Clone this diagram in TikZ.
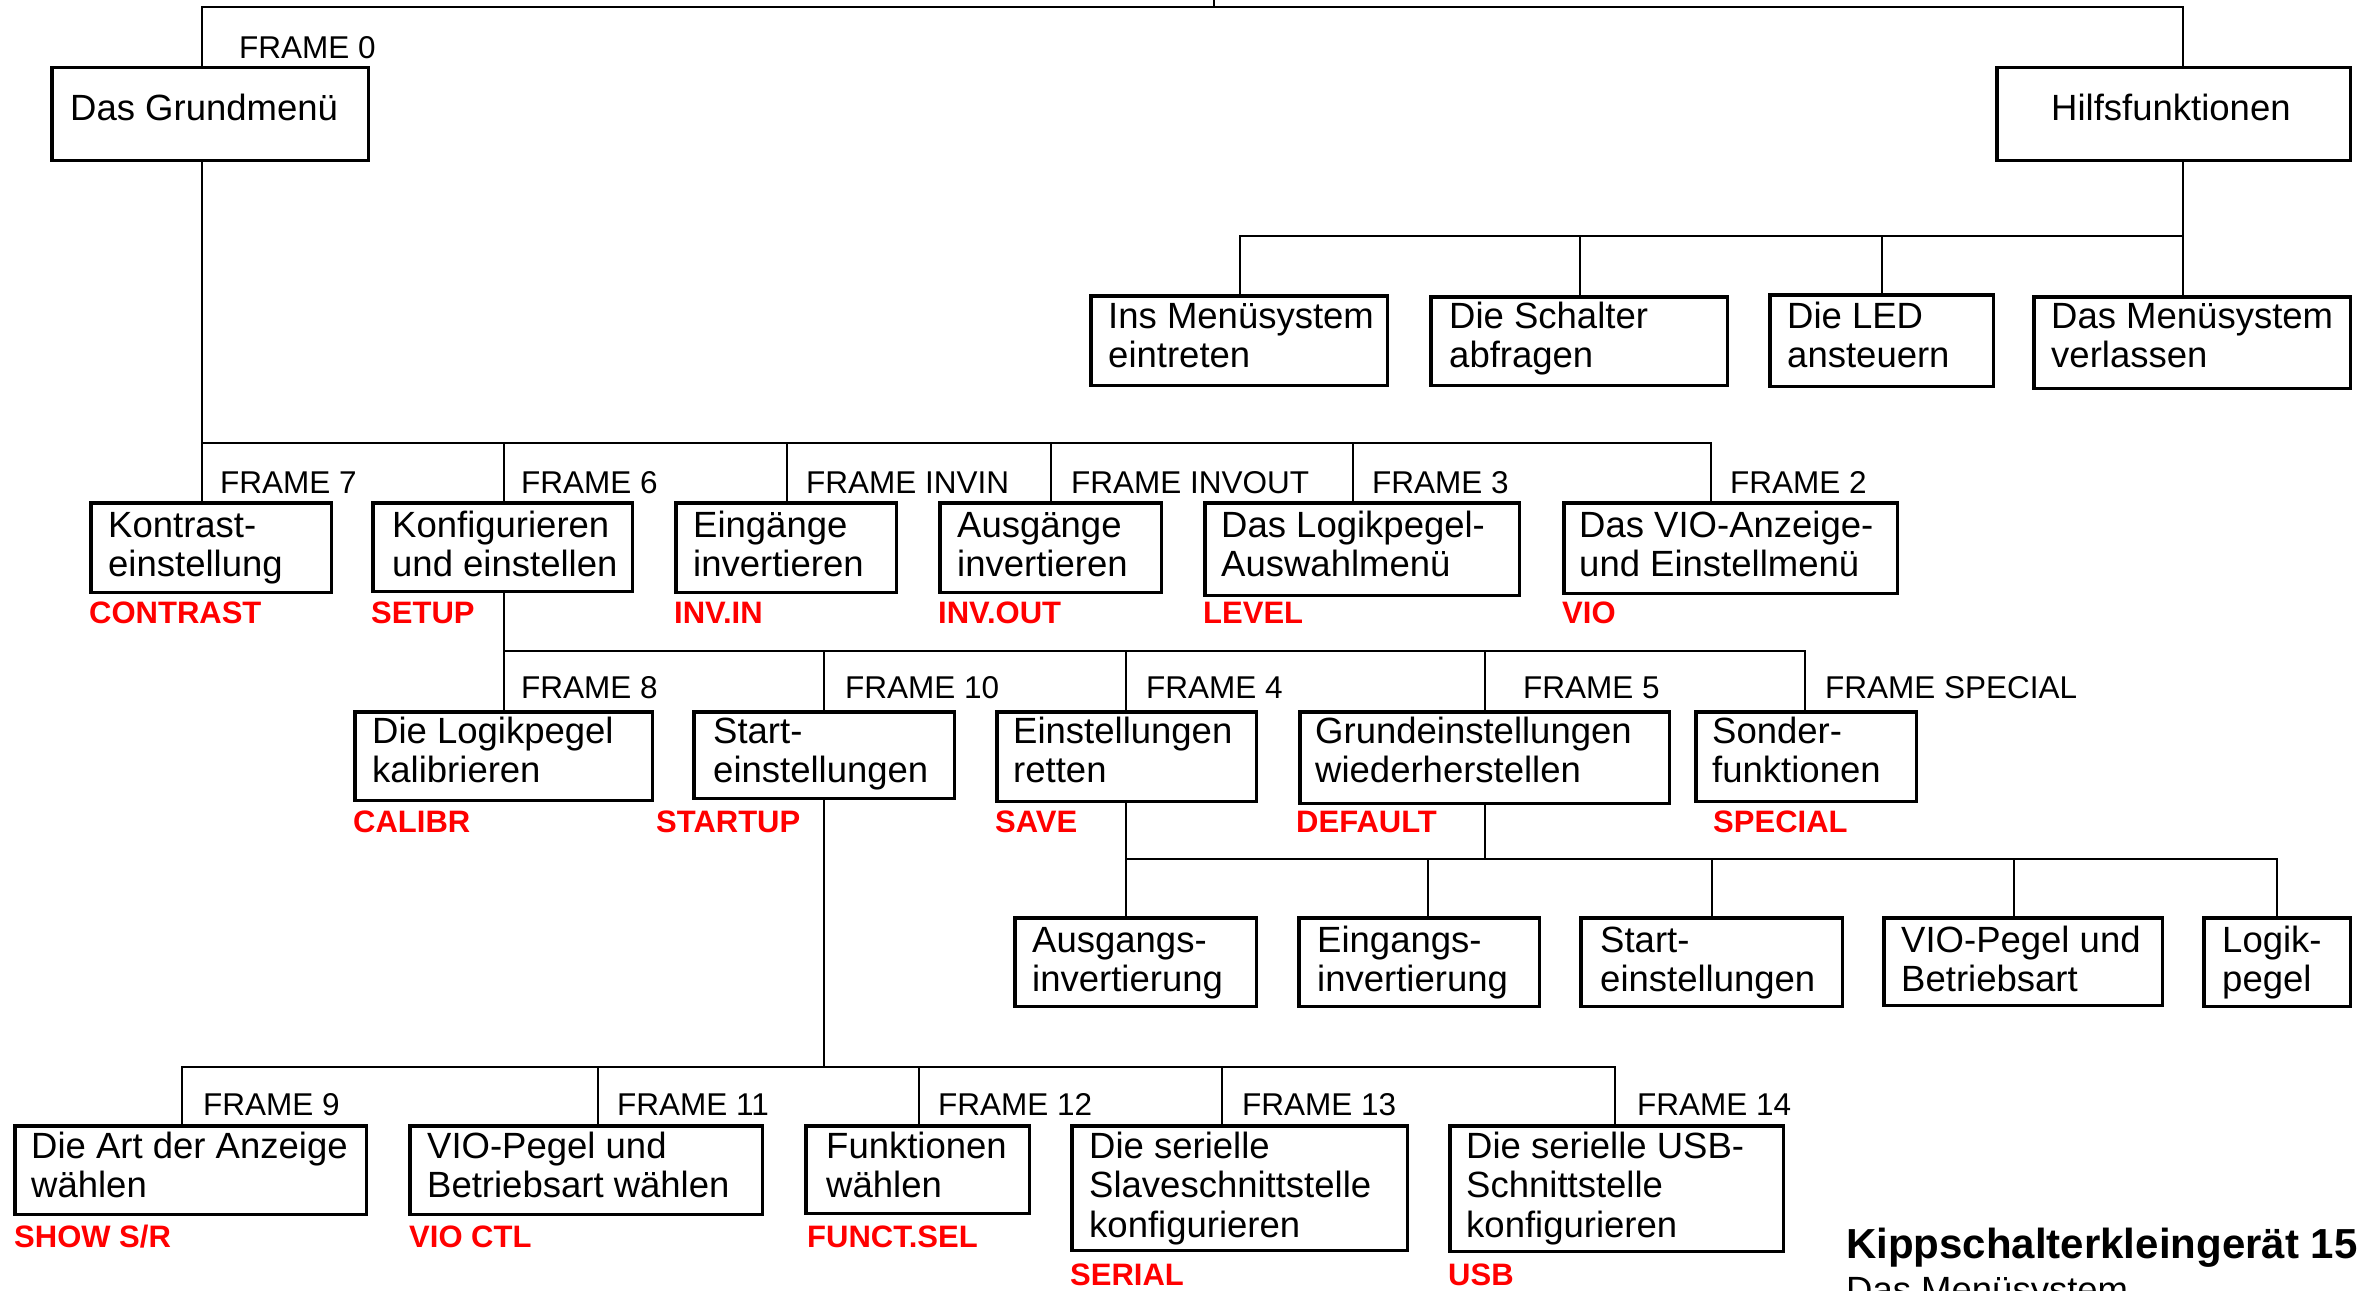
\documentclass[tikz,border=0pt]{standalone}
\usepackage{fontspec}
\setmainfont{Liberation Sans}
\definecolor{tagred}{RGB}{255,0,0}
\newcommand{\boxfont}{\fontsize{36.5}{39.5}\selectfont}
\newcommand{\framefont}{\fontsize{31.5}{34}\selectfont}
\newcommand{\tagfont}{\fontsize{31}{34}\selectfont\bfseries}
\newcommand{\textlines}[1]{\begin{tabular}[t]{@{}l@{}}#1\end{tabular}}
% menu box: name, left, top, right, bottom (outer edges)
\newcommand{\menubox}[5]{%
  \node[menu, minimum width={(#4-#2-3.5)*1pt}, minimum height={(#5-#3-3.5)*1pt}]
    (#1) at (#2+1.75,#3+1.75) {};}
\tikzset{
  conn/.style={line width=2pt},
  menu/.style={draw, line width=3.5pt, rectangle, inner sep=0pt, outer sep=0pt, anchor=north west},
  boxtext/.style={anchor=base west, inner sep=0pt, font=\boxfont},
  framelabel/.style={anchor=base west, inner sep=0pt, font=\framefont},
  menutag/.style={anchor=base west, inner sep=0pt, font=\tagfont, text=tagred},
}
\begin{document}
\begin{tikzpicture}[x=1pt,y=-1pt]
\useasboundingbox (0,0) rectangle (2360,1290);
\clip (0,0) rectangle (2360,1290);
\fill[white] (0,0) rectangle (2360,1290);

% ---------- boxes ----------
\menubox{gm}{50}{66}{370}{162}
\menubox{hf}{1995}{66}{2352}{162}
\menubox{ins}{1089}{294}{1389}{387}
\menubox{sch}{1429}{295}{1729}{387}
\menubox{led}{1768}{293}{1995}{388}
\menubox{verl}{2032}{295}{2352}{390}
\menubox{kon}{89}{501}{333}{594}
\menubox{kfg}{371}{501}{634}{593}
\menubox{ein}{674}{501}{898}{594}
\menubox{aus}{938}{501}{1163}{594}
\menubox{lvl}{1203}{501}{1521}{597}
\menubox{vio}{1562}{501}{1899}{595}
\menubox{cal}{353}{710}{654}{802}
\menubox{sta}{692}{710}{956}{800}
\menubox{ret}{995}{710}{1258}{803}
\menubox{gru}{1298}{710}{1671}{805}
\menubox{son}{1694}{710}{1918}{803}
\menubox{ausi}{1013}{916}{1258}{1008}
\menubox{eini}{1297}{916}{1541}{1008}
\menubox{stai}{1579}{916}{1844}{1008}
\menubox{viop}{1882}{916}{2164}{1007}
\menubox{logp}{2202}{916}{2352}{1008}
\menubox{art}{13}{1124}{368}{1216}
\menubox{viow}{408}{1124}{764}{1216}
\menubox{fkt}{804}{1124}{1031}{1215}
\menubox{ser}{1070}{1124}{1409}{1252}
\menubox{usb}{1448}{1124}{1785}{1253}

% ---------- box texts ----------
\node[boxtext] (gm-t)   at (70,120)   {Das Grundmenü};
\node[boxtext] (hf-t)   at (2051,120) {Hilfsfunktionen};
\node[boxtext] (ins-t)  at (1108,328) {\textlines{Ins Menüsystem\\eintreten}};
\node[boxtext] (sch-t)  at (1449,328) {\textlines{Die Schalter\\abfragen}};
\node[boxtext] (led-t)  at (1787,328) {\textlines{Die LED\\ansteuern}};
\node[boxtext] (verl-t) at (2051,328) {\textlines{Das Menüsystem\\verlassen}};
\node[boxtext] (kon-t)  at (108,537)  {\textlines{Kontrast-\\einstellung}};
\node[boxtext] (kfg-t)  at (392,537)  {\textlines{Konfigurieren\\und einstellen}};
\node[boxtext] (ein-t)  at (693,537)  {\textlines{Eingänge\\invertieren}};
\node[boxtext] (aus-t)  at (957,537)  {\textlines{Ausgänge\\invertieren}};
\node[boxtext] (lvl-t)  at (1221,537) {\textlines{Das Logikpegel-\\Auswahlmenü}};
\node[boxtext] (vio-t)  at (1579,537) {\textlines{Das VIO-Anzeige-\\und Einstellmenü}};
\node[boxtext] (cal-t)  at (372,743)  {\textlines{Die Logikpegel\\kalibrieren}};
\node[boxtext] (sta-t)  at (713,743)  {\textlines{Start-\\einstellungen}};
\node[boxtext] (ret-t)  at (1013,743) {\textlines{Einstellungen\\retten}};
\node[boxtext] (gru-t)  at (1315,743) {\textlines{Grundeinstellungen\\wiederherstellen}};
\node[boxtext] (son-t)  at (1712,743) {\textlines{Sonder-\\funktionen}};
\node[boxtext] (ausi-t) at (1032,952) {\textlines{Ausgangs-\\invertierung}};
\node[boxtext] (eini-t) at (1317,952) {\textlines{Eingangs-\\invertierung}};
\node[boxtext] (stai-t) at (1600,952) {\textlines{Start-\\einstellungen}};
\node[boxtext] (viop-t) at (1901,952) {\textlines{VIO-Pegel und\\Betriebsart}};
\node[boxtext] (logp-t) at (2222,952) {\textlines{Logik-\\pegel}};
\node[boxtext] (art-t)  at (31,1158)  {\textlines{Die Art der Anzeige\\wählen}};
\node[boxtext] (viow-t) at (427,1158)  {\textlines{VIO-Pegel und\\Betriebsart wählen}};
\node[boxtext] (fkt-t)  at (826,1158)  {\textlines{Funktionen\\wählen}};
\node[boxtext] (ser-t)  at (1089,1158) {\textlines{Die serielle\\Slaveschnittstelle\\konfigurieren}};
\node[boxtext] (usb-t)  at (1466,1158) {\textlines{Die serielle USB-\\Schnittstelle\\konfigurieren}};

% ---------- frame labels ----------
\node[framelabel] (f0)  at (239,59)   {FRAME 0};
\node[framelabel] (f7)  at (220,493)  {FRAME 7};
\node[framelabel] (f6)  at (521,493)  {FRAME 6};
\node[framelabel] (fin) at (806,493)  {FRAME INVIN};
\node[framelabel] (fout) at (1071,493) {FRAME INVOUT};
\node[framelabel] (f3)  at (1372,493) {FRAME 3};
\node[framelabel] (f2)  at (1730,493) {FRAME 2};
\node[framelabel] (f8)  at (521,698)  {FRAME 8};
\node[framelabel] (f10) at (845,698)  {FRAME 10};
\node[framelabel] (f4)  at (1146,698) {FRAME 4};
\node[framelabel] (f5)  at (1523,698) {FRAME 5};
\node[framelabel] (fsp) at (1825,698) {FRAME SPECIAL};
\node[framelabel] (f9)  at (203,1115) {FRAME 9};
\node[framelabel] (f11) at (617,1115) {FRAME 11};
\node[framelabel] (f12) at (938,1115) {FRAME 12};
\node[framelabel] (f13) at (1242,1115) {FRAME 13};
\node[framelabel] (f14) at (1637,1115) {FRAME 14};

% ---------- red menu tags ----------
\node[menutag] (g-con) at (89,623)   {CONTRAST};
\node[menutag] (g-set) at (371,623)  {SETUP};
\node[menutag] (g-inv) at (674,623)  {INV.IN};
\node[menutag] (g-out) at (938,623)  {INV.OUT};
\node[menutag] (g-lev) at (1203,623) {LEVEL};
\node[menutag] (g-vio) at (1562,623) {VIO};
\node[menutag] (g-cal) at (353,832)  {CALIBR};
\node[menutag] (g-sta) at (656,832)  {STARTUP};
\node[menutag] (g-sav) at (995,832)  {SAVE};
\node[menutag] (g-def) at (1296,832) {DEFAULT};
\node[menutag] (g-spe) at (1713,832) {SPECIAL};
\node[menutag] (g-sho) at (14,1247)  {SHOW S/R};
\node[menutag] (g-vct) at (409,1247) {VIO CTL};
\node[menutag] (g-fun) at (807,1247) {FUNCT.SEL};
\node[menutag] (g-ser) at (1070,1285) {SERIAL};
\node[menutag] (g-usb) at (1448,1285) {USB};

% ---------- title ----------
\node[anchor=base west, inner sep=0pt, font=\fontsize{42}{46}\selectfont\bfseries] (title) at (1846,1258) {Kippschalterkleingerät 15};
\node[anchor=base west, inner sep=0pt, font=\boxfont] (subtitle) at (1846,1302) {Das Menüsystem};

% ---------- junction points of the buses ----------
\coordinate (top) at (1214,-3);
\coordinate (t0) at (202,7);   \coordinate (t1) at (2183,7);
\coordinate (h0) at (1240,236); \coordinate (h1) at (1580,236);
\coordinate (h2) at (1882,236); \coordinate (h3) at (2183,236);
\coordinate (a0) at (202,443);  \coordinate (a1) at (504,443);
\coordinate (a2) at (787,443);  \coordinate (a3) at (1051,443);
\coordinate (a4) at (1353,443); \coordinate (a5) at (1711,443);
\coordinate (s0) at (504,651);  \coordinate (s1) at (824,651);
\coordinate (s2) at (1126,651); \coordinate (s3) at (1485,651);
\coordinate (s4) at (1805,651);
\coordinate (r0) at (1126,859); \coordinate (rd) at (1485,859);
\coordinate (r1) at (1428,859); \coordinate (r2) at (1712,859);
\coordinate (r3) at (2014,859); \coordinate (r4) at (2277,859);
\coordinate (us) at (824,1067);
\coordinate (u0) at (182,1067); \coordinate (u1) at (598,1067);
\coordinate (u2) at (919,1067); \coordinate (u3) at (1222,1067);
\coordinate (u4) at (1615,1067);

% ---------- connectors ----------
\draw[conn] (top) -- (top |- t0);
\draw[conn] (t0 |- gm.north) -- (t0) -- (t1) -- (t1 |- hf.north);

\draw[conn] (h3 |- hf.south) -- (h3 |- verl.north);
\draw[conn] (h0 |- ins.north) -- (h0) -- (h3);
\draw[conn] (h1) -- (h1 |- sch.north);
\draw[conn] (h2) -- (h2 |- led.north);

\draw[conn] (a0 |- gm.south) -- (a0 |- kon.north);
\draw[conn] (a0) -- (a5) -- (a5 |- vio.north);
\draw[conn] (a1) -- (a1 |- kfg.north);
\draw[conn] (a2) -- (a2 |- ein.north);
\draw[conn] (a3) -- (a3 |- aus.north);
\draw[conn] (a4) -- (a4 |- lvl.north);

\draw[conn] (s0 |- kfg.south) -- (s0 |- cal.north);
\draw[conn] (s0) -- (s4) -- (s4 |- son.north);
\draw[conn] (s1) -- (s1 |- sta.north);
\draw[conn] (s2) -- (s2 |- ret.north);
\draw[conn] (s3) -- (s3 |- gru.north);

\draw[conn] (r0 |- ret.south) -- (r0 |- ausi.north);
\draw[conn] (rd |- gru.south) -- (rd);
\draw[conn] (r0) -- (r4) -- (r4 |- logp.north);
\draw[conn] (r1) -- (r1 |- eini.north);
\draw[conn] (r2) -- (r2 |- stai.north);
\draw[conn] (r3) -- (r3 |- viop.north);

\draw[conn] (us |- sta.south) -- (us);
\draw[conn] (u0 |- art.north) -- (u0) -- (u4) -- (u4 |- usb.north);
\draw[conn] (u1) -- (u1 |- viow.north);
\draw[conn] (u2) -- (u2 |- fkt.north);
\draw[conn] (u3) -- (u3 |- ser.north);
\end{tikzpicture}
\end{document}
